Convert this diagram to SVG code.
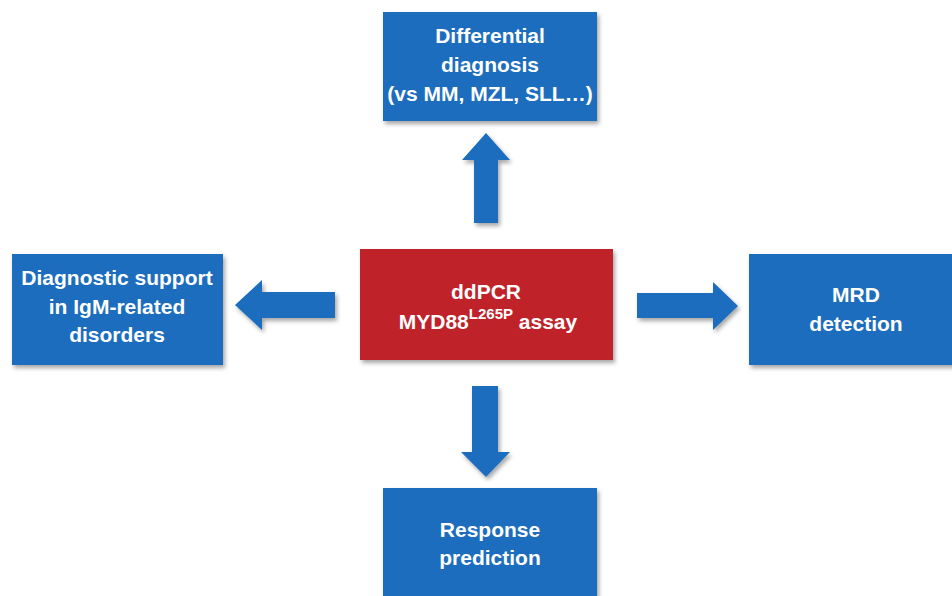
<svg xmlns="http://www.w3.org/2000/svg" width="952" height="596" viewBox="0 0 952 596">
<defs>
<filter id="sh" x="-10%" y="-10%" width="130%" height="130%">
<feDropShadow dx="2" dy="3" stdDeviation="2" flood-color="#000" flood-opacity="0.35"/>
</filter>
</defs>
<style>
.blue{fill:#1f6dbd;filter:url(#sh)}
.red{fill:#c0232b;filter:url(#sh)}
.arrow{fill:#1f6dbd;filter:url(#sh)}
text{font-family:"Liberation Sans",Arial,sans-serif;font-weight:bold;font-size:21px;fill:#fff;text-anchor:middle}
</style>
<rect width="952" height="596" fill="#fff"/>
<g id="connectors">
<polygon class="arrow" points="474,223 474,160 462,160 486,133 510,160 498,160 498,223"/>
<polygon class="arrow" points="335,292 262,292 262,280 235,305 262,330 262,318 335,318"/>
<polygon class="arrow" points="637,293 713,293 713,282 738,306 713,330 713,318 637,318"/>
<polygon class="arrow" points="472,386 498,386 498,452 510,452 486,477 461,452 472,452"/>
</g>
<g id="center">
<rect class="red" x="360" y="249" width="253" height="111"/>
<text x="486" y="299">ddPCR</text>
<text x="488" y="329">MYD88<tspan font-size="15" dy="-10">L265P</tspan><tspan dy="10"> assay</tspan></text>
</g>
<g id="top">
<rect class="blue" x="383" y="12" width="214" height="109"/>
<text x="490" y="43">Differential</text>
<text x="490" y="72">diagnosis</text>
<text x="490" y="101">(vs MM, MZL, SLL…)</text>
</g>
<g id="left">
<rect class="blue" x="12" y="254" width="211" height="111"/>
<text x="117" y="285">Diagnostic support</text>
<text x="117" y="314">in IgM-related</text>
<text x="117" y="342">disorders</text>
</g>
<g id="right">
<rect class="blue" x="749" y="254" width="214" height="111"/>
<text x="856" y="302">MRD</text>
<text x="856" y="331">detection</text>
</g>
<g id="bottom">
<rect class="blue" x="383" y="488" width="214" height="120"/>
<text x="490" y="537">Response</text>
<text x="490" y="565">prediction</text>
</g>
</svg>
